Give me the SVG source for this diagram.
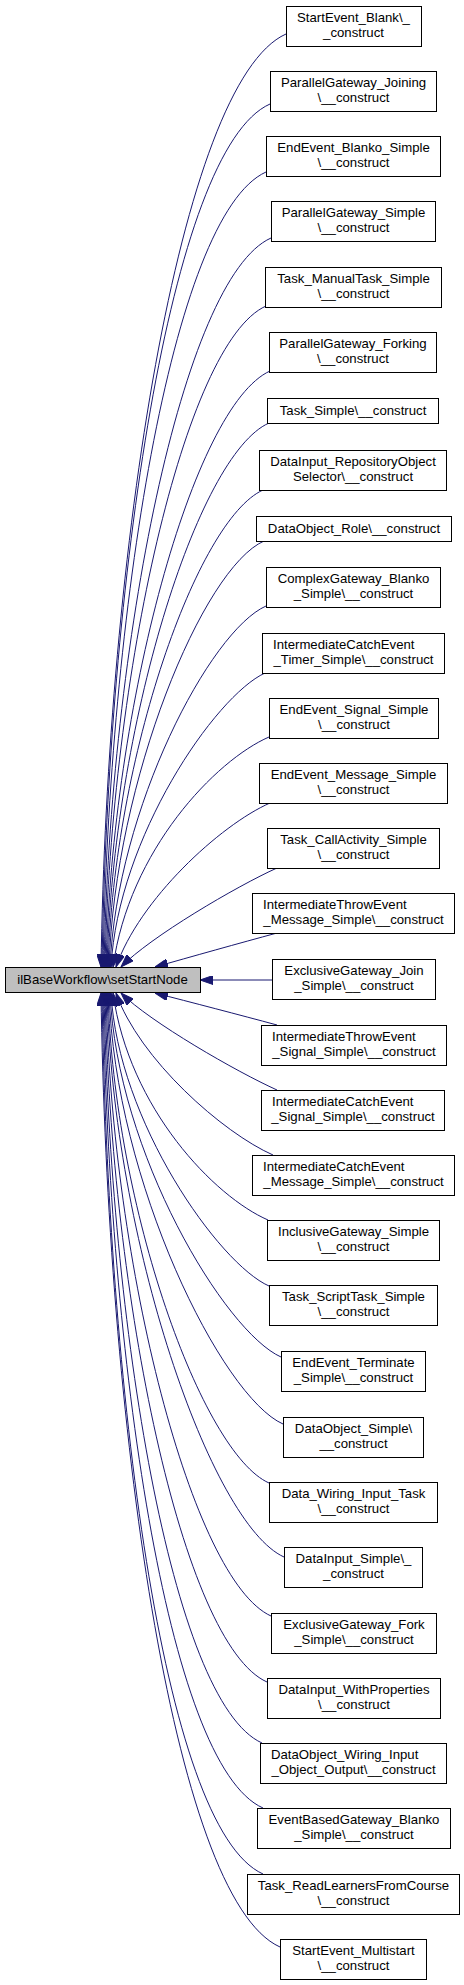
<svg xmlns="http://www.w3.org/2000/svg" width="464" height="1985" viewBox="0 0 464 1985">
<style>
.node rect{fill:#ffffff;stroke:#000000;stroke-width:1}
.main rect{fill:#bfbfbf;stroke:#000000;stroke-width:1}
text{font-family:"Liberation Sans",Arial,Helvetica,sans-serif;font-size:13.2px;fill:#000000}
.c{text-anchor:middle}
.l{text-anchor:start}
.edges path{fill:none;stroke:#191970;stroke-width:1;marker-end:url(#arr)}
</style>
<defs>
<marker id="arr" markerUnits="userSpaceOnUse" viewBox="0 0 13 9" refX="13" refY="4.5" markerWidth="13" markerHeight="9" orient="auto">
<path d="M0,0 L13,4.5 L0,9 z" fill="#191970" stroke="#191970" stroke-width="1"/>
</marker>
</defs>
<rect width="464" height="1985" fill="#ffffff"/>
<g class="edges" id="connectors">
<path d="M286,34 C179,82 107,556 101,967"/>
<path d="M270,104 C169,149 108,587 102,967"/>
<path d="M266,172 C171,215 109,617 103,967"/>
<path d="M271,238 C182,278 110,646 104,967"/>
<path d="M266,306 C184,343 111,676 105,967"/>
<path d="M270,371 C193,406 112,705 106,967"/>
<path d="M269,423 C197,455 113,728 107,967"/>
<path d="M263,490 C197,520 114,757 108,967"/>
<path d="M264,541 C203,568 115,780 109,967"/>
<path d="M266,606 C210,631 117,808 110,967"/>
<path d="M265,673 C215,696 118,838 111,967"/>
<path d="M269,737 C216,760 129,850 113,967"/>
<path d="M270,803 C220,825 139,900 116,967"/>
<path d="M277,868 C237,886 150,937 121,967"/>
<path d="M277,933 C240,943 190,957 155,967"/>
<path d="M272,980 L200,980"/>
<path d="M277,1025 C240,1015 190,1002 155,993"/>
<path d="M277,1090 C237,1072 150,1022 121,993"/>
<path d="M273,1155 C223,1133 139,1059 116,993"/>
<path d="M268,1220 C215,1197 129,1109 113,993"/>
<path d="M269,1286 C219,1264 118,1121 111,993"/>
<path d="M281,1357 C225,1332 117,1153 110,993"/>
<path d="M283,1424 C222,1397 115,1182 109,993"/>
<path d="M269,1483 C202,1453 114,1208 108,993"/>
<path d="M284,1557 C211,1524 113,1241 107,993"/>
<path d="M271,1616 C192,1580 112,1267 106,993"/>
<path d="M267,1682 C182,1644 111,1296 105,993"/>
<path d="M262,1743 C171,1702 110,1322 104,993"/>
<path d="M263,1808 C166,1765 109,1351 103,993"/>
<path d="M263,1874 C161,1828 108,1380 102,993"/>
<path d="M280,1947 C171,1898 107,1412 101,993"/>
</g>
<g class="main" id="main"><rect x="5.5" y="967.5" width="195" height="25"/><text class="c" x="102.5" y="984">ilBaseWorkflow\setStartNode</text></g>
<g class="node" id="n1"><rect x="286.5" y="6.5" width="135" height="40"/><text class="c" x="353.5" y="22.3">StartEvent_Blank\_</text><text class="c" x="353.5" y="37">_construct</text></g>
<g class="node" id="n2"><rect x="270.5" y="71.5" width="166" height="40"/><text class="c" x="353.5" y="87.3">ParallelGateway_Joining</text><text class="c" x="353.5" y="102">\__construct</text></g>
<g class="node" id="n3"><rect x="266.5" y="136.5" width="174" height="40"/><text class="c" x="353.5" y="152.3">EndEvent_Blanko_Simple</text><text class="c" x="353.5" y="167">\__construct</text></g>
<g class="node" id="n4"><rect x="271.5" y="201.5" width="164" height="40"/><text class="c" x="353.5" y="217.3">ParallelGateway_Simple</text><text class="c" x="353.5" y="232">\__construct</text></g>
<g class="node" id="n5"><rect x="265.5" y="267.5" width="176" height="40"/><text class="c" x="353.5" y="283.3">Task_ManualTask_Simple</text><text class="c" x="353.5" y="298">\__construct</text></g>
<g class="node" id="n6"><rect x="269.5" y="332.5" width="167" height="40"/><text class="c" x="353" y="348.3">ParallelGateway_Forking</text><text class="c" x="353" y="363">\__construct</text></g>
<g class="node" id="n7"><rect x="267.5" y="398.5" width="171" height="25"/><text class="c" x="353" y="415">Task_Simple\__construct</text></g>
<g class="node" id="n8"><rect x="259.5" y="450.5" width="187" height="40"/><text class="c" x="353" y="466.3">DataInput_RepositoryObject</text><text class="c" x="353" y="481">Selector\__construct</text></g>
<g class="node" id="n9"><rect x="256.5" y="516.5" width="195" height="25"/><text class="c" x="354" y="533">DataObject_Role\__construct</text></g>
<g class="node" id="n10"><rect x="266.5" y="567.5" width="174" height="40"/><text class="c" x="353.5" y="583.3">ComplexGateway_Blanko</text><text class="c" x="353.5" y="598">_Simple\__construct</text></g>
<g class="node" id="n11"><rect x="262.5" y="633.5" width="182" height="40"/><text class="l" x="273" y="649.3">IntermediateCatchEvent</text><text class="c" x="353.5" y="664">_Timer_Simple\__construct</text></g>
<g class="node" id="n12"><rect x="269.5" y="698.5" width="169" height="40"/><text class="c" x="354" y="714.3">EndEvent_Signal_Simple</text><text class="c" x="354" y="729">\__construct</text></g>
<g class="node" id="n13"><rect x="259.5" y="763.5" width="188" height="40"/><text class="c" x="353.5" y="779.3">EndEvent_Message_Simple</text><text class="c" x="353.5" y="794">\__construct</text></g>
<g class="node" id="n14"><rect x="267.5" y="828.5" width="172" height="40"/><text class="c" x="353.5" y="844.3">Task_CallActivity_Simple</text><text class="c" x="353.5" y="859">\__construct</text></g>
<g class="node" id="n15"><rect x="252.5" y="893.5" width="202" height="40"/><text class="l" x="263" y="909.3">IntermediateThrowEvent</text><text class="c" x="353.5" y="924">_Message_Simple\__construct</text></g>
<g class="node" id="n16"><rect x="272.5" y="959.5" width="163" height="40"/><text class="c" x="354" y="975.3">ExclusiveGateway_Join</text><text class="c" x="354" y="990">_Simple\__construct</text></g>
<g class="node" id="n17"><rect x="261.5" y="1025.5" width="185" height="40"/><text class="l" x="272" y="1041.3">IntermediateThrowEvent</text><text class="c" x="354" y="1056">_Signal_Simple\__construct</text></g>
<g class="node" id="n18"><rect x="261.5" y="1090.5" width="183" height="40"/><text class="l" x="272" y="1106.3">IntermediateCatchEvent</text><text class="c" x="353" y="1121">_Signal_Simple\__construct</text></g>
<g class="node" id="n19"><rect x="252.5" y="1155.5" width="202" height="40"/><text class="l" x="263" y="1171.3">IntermediateCatchEvent</text><text class="c" x="353.5" y="1186">_Message_Simple\__construct</text></g>
<g class="node" id="n20"><rect x="267.5" y="1220.5" width="172" height="40"/><text class="c" x="353.5" y="1236.3">InclusiveGateway_Simple</text><text class="c" x="353.5" y="1251">\__construct</text></g>
<g class="node" id="n21"><rect x="269.5" y="1285.5" width="168" height="40"/><text class="c" x="353.5" y="1301.3">Task_ScriptTask_Simple</text><text class="c" x="353.5" y="1316">\__construct</text></g>
<g class="node" id="n22"><rect x="281.5" y="1351.5" width="144" height="40"/><text class="c" x="353.5" y="1367.3">EndEvent_Terminate</text><text class="c" x="353.5" y="1382">_Simple\__construct</text></g>
<g class="node" id="n23"><rect x="283.5" y="1417.5" width="140" height="40"/><text class="c" x="353.5" y="1433.3">DataObject_Simple\</text><text class="c" x="353.5" y="1448">__construct</text></g>
<g class="node" id="n24"><rect x="269.5" y="1482.5" width="168" height="40"/><text class="c" x="353.5" y="1498.3">Data_Wiring_Input_Task</text><text class="c" x="353.5" y="1513">\__construct</text></g>
<g class="node" id="n25"><rect x="284.5" y="1547.5" width="138" height="40"/><text class="c" x="353.5" y="1563.3">DataInput_Simple\_</text><text class="c" x="353.5" y="1578">_construct</text></g>
<g class="node" id="n26"><rect x="271.5" y="1613.5" width="165" height="40"/><text class="c" x="354" y="1629.3">ExclusiveGateway_Fork</text><text class="c" x="354" y="1644">_Simple\__construct</text></g>
<g class="node" id="n27"><rect x="267.5" y="1678.5" width="173" height="40"/><text class="c" x="354" y="1694.3">DataInput_WithProperties</text><text class="c" x="354" y="1709">\__construct</text></g>
<g class="node" id="n28"><rect x="260.5" y="1743.5" width="186" height="40"/><text class="l" x="271" y="1759.3">DataObject_Wiring_Input</text><text class="c" x="353.5" y="1774">_Object_Output\__construct</text></g>
<g class="node" id="n29"><rect x="257.5" y="1808.5" width="193" height="40"/><text class="c" x="354" y="1824.3">EventBasedGateway_Blanko</text><text class="c" x="354" y="1839">_Simple\__construct</text></g>
<g class="node" id="n30"><rect x="247.5" y="1874.5" width="212" height="40"/><text class="c" x="353.5" y="1890.3">Task_ReadLearnersFromCourse</text><text class="c" x="353.5" y="1905">\__construct</text></g>
<g class="node" id="n31"><rect x="280.5" y="1939.5" width="146" height="40"/><text class="c" x="353.5" y="1955.3">StartEvent_Multistart</text><text class="c" x="353.5" y="1970">\__construct</text></g>
</svg>
